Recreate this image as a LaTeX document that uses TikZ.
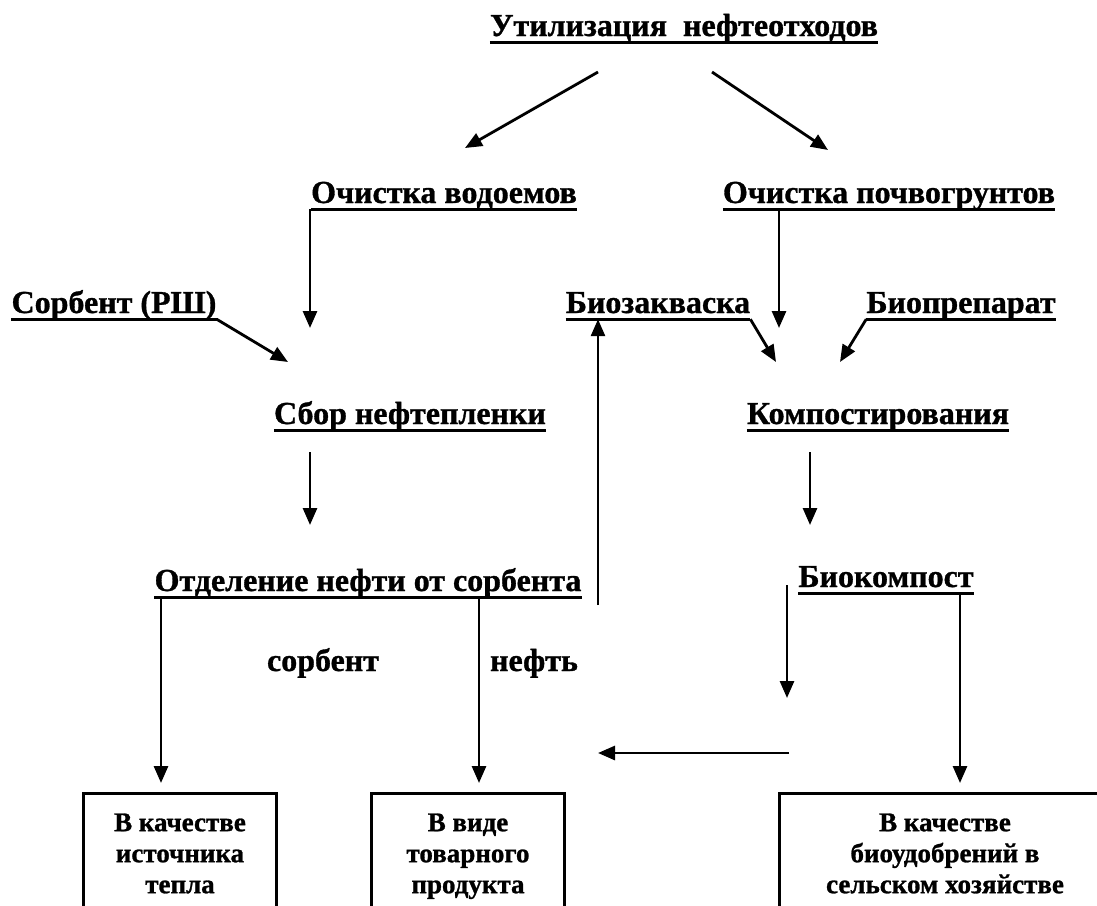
\documentclass[tikz,border=0pt]{standalone}
\usepackage{fontspec}
\setmainfont{Liberation Serif}[BoldFeatures={FakeBold=1}]
\usetikzlibrary{arrows.meta}
\tikzset{
	heading/.style={
		font=\bfseries\fontsize{32}{35}\selectfont,
		inner sep=0pt,
		text height=22pt,
		text depth=6pt,
		anchor=base,
		append after command={(\tikzlastnode.south west) edge[uline] (\tikzlastnode.south east)},
	},
	uline/.style={
		line width=3.2pt,
	},
	note/.style={
		font=\bfseries\fontsize{32}{35}\selectfont,
		inner sep=0pt,
		anchor=base,
	},
	result/.style={
		font=\bfseries\fontsize{27}{31}\selectfont,
		align=center,
		inner sep=0pt,
		minimum height=124pt,
	},
	arrow/.style={
		-{Triangle[length=17pt,width=14pt]},
		line width=2.8pt,
	},
	frame/.style={
		line width=3.2pt,
	},
}

\begin{document}
\begin{tikzpicture}[x=1pt,y=-1pt]
	\useasboundingbox (0,0) rectangle (1097,905);

	% headings
	\node[heading] (util) at (684,36) {Утилизация\ \ нефтеотходов};
	\node[heading] (vod) at (444,203) {Очистка водоемов};
	\node[heading] (poch) at (889,203) {Очистка почвогрунтов};
	\node[heading] (sorb) at (114,313) {Сорбент (РШ)};
	\node[heading] (bioz) at (658,313) {Биозакваска};
	\node[heading] (biop) at (961,313) {Биопрепарат};
	\node[heading] (sbor) at (410,424) {Сбор нефтепленки};
	\node[heading] (komp) at (878,424) {Компостирования};
	\node[heading] (otd) at (368,591) {Отделение нефти от сорбента};
	\node[heading] (biok) at (886,587) {Биокомпост};

	% notes
	\node[note] (sorbent) at (323,671) {сорбент};
	\node[note] (neft) at (534,671) {нефть};

	% result boxes
	\node[result, minimum width=193pt] (heat) at (180,856) {\strut В качестве\\источника\\тепла\strut};
	\node[result, minimum width=192pt] (prod) at (468,856) {\strut В виде\\товарного\\продукта\strut};
	\node[result, minimum width=330pt] (fert) at (945,856) {\strut В качестве\\биоудобрений в\\сельском хозяйстве\strut};
	\draw[frame] (heat.south west) |- (heat.north) -| (heat.south east);
	\draw[frame] (prod.south west) |- (prod.north) -| (prod.south east);
	\draw[frame] (fert.south west) |- (fert.north) -| (fert.south east);

	% free ends
	\coordinate (u1) at (598,72);
	\coordinate (u2) at (712,72);
	\coordinate (v1) at (465,148);
	\coordinate (p1) at (828,150);
	\coordinate (v2) at (310,328);
	\coordinate (p2) at (779,328);
	\coordinate (s1) at (288,362);
	\coordinate (k1) at (776,362);
	\coordinate (k2) at (840,362);
	\coordinate (s2) at (310,452);
	\coordinate (s3) at (310,525);
	\coordinate (k3) at (810,452);
	\coordinate (k4) at (810,525);
	\coordinate (o1) at (598,605);
	\coordinate (o2) at (161,783);
	\coordinate (o3) at (479,783);
	\coordinate (b1) at (787,585);
	\coordinate (b2) at (787,698);
	\coordinate (b3) at (789,753);
	\coordinate (b4) at (598,753);
	\coordinate (b5) at (960,783);

	\draw[arrow] (u1) -- (v1);
	\draw[arrow] (u2) -- (p1);
	\draw[arrow] (v2 |- vod.south) -- (v2);
	\draw[arrow] (p2 |- poch.south) -- (p2);
	\draw[arrow] (sorb.south east) -- (s1);
	\draw[arrow] (bioz.south east) -- (k1);
	\draw[arrow] (biop.south west) -- (k2);
	\draw[arrow] (s2) -- (s3);
	\draw[arrow] (k3) -- (k4);
	\draw[arrow] (o1) -- (o1 |- bioz.south);
	\draw[arrow] (o2 |- otd.south) -- (o2);
	\draw[arrow] (o3 |- otd.south) -- (o3);
	\draw[arrow] (b1) -- (b2);
	\draw[arrow] (b3) -- (b4);
	\draw[arrow] (b5 |- biok.south) -- (b5);

\end{tikzpicture}
\end{document}
